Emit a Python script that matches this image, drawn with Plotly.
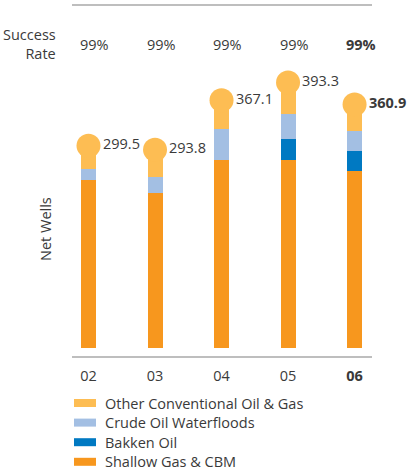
import plotly.graph_objects as go

years = ["02", "03", "04", "05", "06"]
tick_labels = ["02", "03", "04", "05", "<b>06</b>"]
shallow_gas_cbm = [248.9, 229.6, 278.5, 278.5, 262.2]
bakken_oil = [0, 0, 0, 31.1, 29.7]
crude_oil_waterfloods = [16.3, 23.7, 45.9, 37.5, 29.6]
other_conventional = [34.3, 40.5, 42.7, 46.2, 39.4]
totals = [299.5, 293.8, 367.1, 393.3, 360.9]
success_rate = ["99%", "99%", "99%", "99%", "99%"]

C_OTHER = "#FDBD53"
C_CRUDE = "#A3BFE3"
C_BAKKEN = "#0079C2"
C_SHALLOW = "#F7971E"
TXT = "#3a3a3a"
FONT = "Open Sans"
FS = 14.5

W, H = 409, 470
L, R, T, B = 72, 37, 5, 113
PW, PH = W - L - R, H - T - B

def px_x(p):
    return (p - L) / PW

def px_y(p):
    return (H - B - p) / PH

x = list(range(len(years)))
bw = 0.2256

fig = go.Figure()
series = [
    ("Shallow Gas & CBM", shallow_gas_cbm, C_SHALLOW),
    ("Bakken Oil", bakken_oil, C_BAKKEN),
    ("Crude Oil Waterfloods", crude_oil_waterfloods, C_CRUDE),
    ("Other Conventional Oil & Gas", other_conventional, C_OTHER),
]
for name, vals, col in series:
    fig.add_trace(go.Bar(x=x, y=vals, name=name, marker=dict(color=col, line=dict(width=0)),
                         width=bw, showlegend=False))

fig.add_trace(go.Scatter(x=x, y=totals, mode="markers",
                         marker=dict(size=24, color=C_OTHER, line=dict(width=0)),
                         showlegend=False, hoverinfo="skip"))

annotations = []
for i, t in enumerate(totals):
    txt = f"{t:.1f}"
    if i == len(totals) - 1:
        txt = f"<b>{txt}</b>"
    annotations.append(dict(x=x[i], y=t, xref="x", yref="y", text=txt, showarrow=False,
                            xanchor="left", yanchor="middle", xshift=12, yshift=2,
                            font=dict(size=FS, color=TXT, family=FONT)))

for i, s in enumerate(success_rate):
    txt = s if i < len(success_rate) - 1 else f"<b>{s}</b>"
    annotations.append(dict(x=x[i] + 0.09, y=px_y(44), xref="x", yref="paper", text=txt,
                            showarrow=False, xanchor="center", yanchor="middle",
                            font=dict(size=FS, color=TXT, family=FONT)))

annotations.append(dict(x=px_x(58), y=px_y(44), xref="paper", yref="paper",
                        text="Success<br>Rate", align="right",
                        showarrow=False, xanchor="right", yanchor="middle",
                        font=dict(size=FS, color=TXT, family=FONT)))
annotations.append(dict(x=px_x(45), y=px_y(229), xref="paper", yref="paper", text="Net Wells",
                        showarrow=False, textangle=-90, xanchor="center", yanchor="middle",
                        font=dict(size=FS, color=TXT, family=FONT)))

shapes = [
    dict(type="line", xref="paper", yref="paper", x0=0, x1=1, y0=1, y1=1,
         line=dict(color="#a8a8a8", width=1.5)),
    dict(type="line", xref="paper", yref="paper", x0=0, x1=1, y0=0, y1=0,
         line=dict(color="#a8a8a8", width=1.5)),
]

legend_items = [
    ("Other Conventional Oil & Gas", C_OTHER, 403),
    ("Crude Oil Waterfloods", C_CRUDE, 422.6),
    ("Bakken Oil", C_BAKKEN, 442.2),
    ("Shallow Gas & CBM", C_SHALLOW, 461.8),
]
for name, col, yc in legend_items:
    shapes.append(dict(type="rect", xref="paper", yref="paper",
                       x0=px_x(74), x1=px_x(96), y0=px_y(yc + 4), y1=px_y(yc - 4),
                       fillcolor=col, line=dict(width=0)))
    annotations.append(dict(x=px_x(103), y=px_y(yc), xref="paper", yref="paper", text=name,
                            showarrow=False, xanchor="left", yanchor="middle",
                            font=dict(size=FS, color=TXT, family=FONT)))

top_val = (H - B - 9 - T) / 0.675
bot_val = -9 / 0.675

fig.update_layout(
    width=W, height=H, barmode="stack",
    margin=dict(l=L, r=R, t=T, b=B, pad=0),
    paper_bgcolor="white", plot_bgcolor="white",
    font=dict(family=FONT, color=TXT, size=FS),
    xaxis=dict(range=[-0.248, 4.262], tickvals=x, ticktext=tick_labels, showgrid=False,
               zeroline=False, showline=False, ticks="", ticklen=0, ticklabelstandoff=8,
               tickfont=dict(size=FS, color=TXT, family=FONT)),
    yaxis=dict(range=[bot_val, top_val], showgrid=False, zeroline=False, showline=False,
               showticklabels=False, ticks=""),
    annotations=annotations, shapes=shapes, showlegend=False,
)

fig.write_html("out.html", config={"displayModeBar": False},
               post_script="document.body.style.margin='0';document.body.style.overflow='hidden';")
